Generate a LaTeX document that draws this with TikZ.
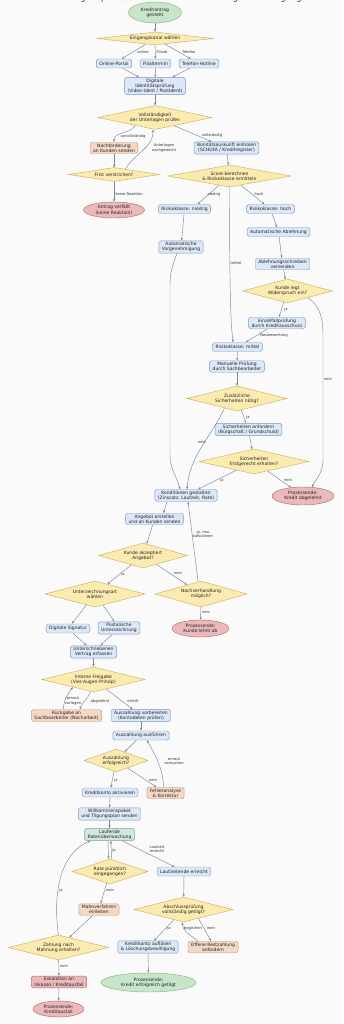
\documentclass[tikz,border=0pt]{standalone}
\usepackage{fontspec}
\setmainfont{DejaVu Sans}
\usetikzlibrary{shapes.geometric,arrows.meta,calc}
\definecolor{bgc}{HTML}{FAFAFA}
\definecolor{procf}{HTML}{DCE7F7}
\definecolor{procb}{HTML}{8098C4}
\definecolor{decf}{HTML}{FCEBB0}
\definecolor{decb}{HTML}{CDB15E}
\definecolor{orgf}{HTML}{F5D8C4}
\definecolor{orgb}{HTML}{C49F86}
\definecolor{redf}{HTML}{EBB9B9}
\definecolor{redb}{HTML}{B86A6A}
\definecolor{grnf}{HTML}{C8E5C9}
\definecolor{grnb}{HTML}{86B487}
\definecolor{tealf}{HTML}{D0E7E0}
\definecolor{tealb}{HTML}{7AA597}
\definecolor{edgec}{HTML}{7886A2}
\definecolor{txtc}{HTML}{222222}
\definecolor{labc}{HTML}{333333}
\tikzset{
  basen/.style={font=\fontsize{4.5}{5.2}\selectfont, align=center, line width=0.45pt, text=txtc},
  pbox/.style={basen, rectangle, rounded corners=1.8pt, draw=procb, fill=procf, inner xsep=3pt, inner ysep=1.4pt, minimum height=9pt},
  obox/.style={pbox, draw=orgb, fill=orgf},
  rbox/.style={pbox, draw=redb, fill=redf},
  tbox/.style={pbox, draw=tealb, fill=tealf},
  decn/.style={basen, diamond, draw=decb, fill=decf, inner sep=0pt},
  dmd/.style 2 args={decn, minimum width=#1pt, minimum height=#2pt, /utils/exec={\pgfmathsetmacro\myasp{#1/#2}}, aspect=\myasp},
  terml/.style={basen, ellipse, inner sep=0pt},
  gell/.style={terml, draw=grnb, fill=grnf},
  rell/.style={terml, draw=redb, fill=redf},
  arr/.style={draw=edgec, line width=0.45pt, -{Stealth[length=2.8pt,width=2.2pt]}},
  lab/.style={font=\fontsize{3.7}{4.3}\selectfont, text=labc, inner sep=0.3pt, align=center},
}
\begin{document}
\begin{tikzpicture}[x=1pt,y=1pt]
\useasboundingbox[fill=bgc] (0,0) rectangle (343,-1024);
\node[font=\fontsize{8.3}{10}\selectfont, text=txtc, anchor=base, inner sep=0pt] (title) at (172,-0.8) {Kreditvergabeprozess einer Bank – vom Antrag bis zur Tilgung};

% nodes
\node[gell, minimum width=53pt, minimum height=21pt] (start) at (155,-12.5) {Kreditantrag\\gestellt};
\node[dmd={116}{13}] (d1) at (155,-38.5) {Eingangskanal wählen};
\node[pbox] (online) at (114,-63.5) {Online-Portal};
\node[pbox] (filial) at (155.5,-63.5) {Filialtermin};
\node[pbox] (telefon) at (199,-63.5) {Telefon-Hotline};
\node[pbox] (ident) at (155,-86) {Digitale\\Identitätsprüfung\\(Video-Ident / PostIdent)};
\node[dmd={114}{24}] (vollst) at (155,-117.5) {Vollständigkeit\\der Unterlagen prüfen};
\node[obox] (nachf) at (114,-148) {Nachforderung\\an Kunden senden};
\node[pbox] (bonit) at (226.5,-148) {Bonitätsauskunft einholen\\(SCHUFA / Kreditregister)};
\node[dmd={91}{14}] (frist) at (114,-174.5) {Frist verstrichen?};
\node[rell, minimum width=61pt, minimum height=16pt] (verf) at (114,-210) {Antrag verfällt\\(keine Reaktion)};
\node[dmd={123}{22}] (score) at (229.5,-176) {Score berechnen\\\& Risikoklasse ermitteln};
\node[pbox] (niedrig) at (184.5,-209) {Risikoklasse: niedrig};
\node[pbox] (hoch) at (270.5,-209) {Risikoklasse: hoch};
\node[pbox] (abl) at (278.5,-232) {Automatische Ablehnung};
\node[pbox] (vorgen) at (181,-247) {Automatische\\Vorgenehmigung};
\node[pbox] (schreib) at (282.5,-264) {Ablehnungsschreiben\\versenden};
\node[dmd={90}{24}] (widersp) at (287.5,-291) {Kunde legt\\Widerspruch ein?};
\node[pbox] (einzel) at (277,-323) {Einzelfallprüfung\\durch Kreditausschuss};
\node[pbox] (mittel) at (237.5,-347) {Risikoklasse: mittel};
\node[pbox] (manuell) at (237,-366.5) {Manuelle Prüfung\\durch Sachbearbeiter};
\node[dmd={100}{25}] (zus) at (237,-398.5) {Zusätzliche\\Sicherheiten nötig?};
\node[pbox] (sich) at (248.5,-429.5) {Sicherheiten anfordern\\(Bürgschaft / Grundschuld)};
\node[dmd={110}{25}] (frist2) at (254,-461.5) {Sicherheiten\\fristgerecht erhalten?};
\node[rell, minimum width=62pt, minimum height=18pt] (abgel) at (303,-496) {Prozessende:\\Kredit abgelehnt};
\node[pbox] (kondit) at (186,-495.5) {Konditionen gestalten\\(Zinssatz, Laufzeit, Rate)};
\node[pbox] (angebot) at (154.5,-519) {Angebot erstellen\\und an Kunden senden};
\node[dmd={89}{25}] (akzept) at (143,-555.5) {Kunde akzeptiert\\Angebot?};
\node[dmd={100}{26}] (unterz) at (95,-594) {Unterzeichnungsart\\wählen};
\node[dmd={92}{26}] (nachv) at (201,-594) {Nachverhandlung\\möglich?};
\node[rell, minimum width=57pt, minimum height=17pt] (kundeab) at (200.5,-628.5) {Prozessende:\\Kunde lehnt ab};
\node[pbox] (digsig) at (68,-628.5) {Digitale Signatur};
\node[pbox] (postal) at (119,-628) {Postalische\\Unterzeichnung};
\node[pbox] (vertrag) at (93.5,-652) {Unterschriebenen\\Vertrag erfassen};
\node[dmd={103}{25}] (freig) at (93.5,-679.5) {Interne Freigabe\\(Vier-Augen-Prinzip)};
\node[obox] (rueck) at (66.5,-715.5) {Rückgabe an\\Sachbearbeiter (Nacharbeit)};
\node[pbox] (vorb) at (141,-715.5) {Auszahlung vorbereiten\\(Kontodaten prüfen)};
\node[pbox] (ausf) at (141,-735.5) {Auszahlung ausführen};
\node[dmd={64}{23}] (erfolg) at (116,-760.5) {Auszahlung\\erfolgreich?};
\node[pbox] (aktiv) at (110,-792.5) {Kreditkonto aktivieren};
\node[obox] (fehler) at (165.5,-793) {Fehleranalyse\\\& Korrektur};
\node[pbox] (willk) at (109.5,-814) {Willkommenspaket\\und Tilgungsplan senden};
\node[tbox] (lauf) at (109.5,-834.5) {Laufende\\Ratenüberwachung};
\node[dmd={76}{25}] (rate) at (110,-871.5) {Rate pünktlich\\eingegangen?};
\node[pbox] (laufend) at (184,-871.5) {Laufzeitende erreicht};
\node[obox] (mahn) at (99,-909.5) {Mahnverfahren\\einleiten};
\node[dmd={99}{25}] (absch) at (183.5,-909.5) {Abschlussprüfung\\vollständig getilgt?};
\node[dmd={100}{25}] (zahl) at (58.5,-947.5) {Zahlung nach\\Mahnung erhalten?};
\node[pbox] (aufl) at (148,-947) {Kreditkonto auflösen\\\& Löschungsbewilligung};
\node[obox] (offen) at (213,-947) {Offene Restzahlung\\anfordern};
\node[gell, minimum width=95pt, minimum height=19pt] (erfolgt) at (148.5,-982.5) {Prozessende:\\Kredit erfolgreich getilgt};
\node[rbox] (eskal) at (59,-982) {Eskalation an\\Inkasso / Kreditausfall};
\node[rell, minimum width=51pt, minimum height=16pt] (ausfall) at (58.5,-1009) {Prozessende:\\Kreditausfall};

% edges
\draw[arr] (start) -- (d1);
\draw[arr] (d1) -- (online) node[lab] at (143,-52) {online};
\draw[arr] (d1) -- (filial) node[lab] at (162,-52) {Filiale};
\draw[arr] (d1) -- (telefon) node[lab] at (189,-52) {Telefon};
\draw[arr] (online) -- (ident);
\draw[arr] (filial) -- (ident);
\draw[arr] (telefon) -- (ident);
\draw[arr] (ident) -- (vollst);
\draw[arr] ($(vollst.west)!0.65!(vollst.south)$) to[out=-120,in=90] (nachf.north) node[lab] at (133,-136) {unvollständig};
\draw[arr] (vollst) -- (bonit) node[lab] at (212,-135) {vollständig};
\draw[arr] (nachf) -- (frist);
\draw[arr] ($(frist.north)!0.25!(frist.east)$) to[out=60,in=-90] ($(vollst.south)+(-2,0)$) node[lab] at (164,-148) {Unterlagen\\nachgereicht};
\draw[arr] (frist) -- (verf) node[lab, anchor=west] at (115,-194) {keine Reaktion};
\draw[arr] (bonit) -- (score);
\draw[arr] (score) -- ($(niedrig.north)+(13,0)$) node[lab] at (214,-194) {niedrig};
\draw[arr] (score) -- ($(hoch.north)+(-6,0)$) node[lab] at (259,-194) {hoch};
\draw[arr] (score.south) .. controls +(0,-140) and +(-1,12) .. ($(mittel.north)+(-4.5,0)$) node[lab] at (236,-263) {mittel};
\draw[arr] (niedrig) -- (vorgen);
\draw[arr] ($(vorgen.south)+(-4,0)$) to[out=-110,in=90] (170,-285) -- (170,-455) to[out=-90,in=105] ($(kondit.north)+(-6,0)$);
\draw[arr] (hoch) -- (abl);
\draw[arr] (abl) -- (schreib);
\draw[arr] (schreib) -- (widersp);
\draw[arr] (widersp) -- (einzel) node[lab] at (286,-309) {ja};
\draw[arr] ($(widersp.east)!0.55!(widersp.south)$) to[out=-35,in=90] (323,-335) -- (323,-460) to[out=-90,in=60] (abgel.45) node[lab] at (328,-379) {nein};
\draw[arr] (einzel) -- ($(mittel.north)+(8,0)$) node[lab] at (274,-335) {Neubewertung};
\draw[arr] (mittel) -- (manuell);
\draw[arr] (manuell) -- (zus);
\draw[arr] (zus) -- (sich) node[lab] at (248,-417) {ja};
\draw[arr] ($(zus.west)!0.75!(zus.south)$) to[out=-115,in=85] ($(kondit.north)+(1,0)$) node[lab] at (202,-442) {nein};
\draw[arr] (sich) -- (frist2);
\draw[arr] (frist2) -- ($(kondit.north)+(12,0)$) node[lab] at (222,-480) {ja};
\draw[arr] (frist2) -- (abgel) node[lab] at (288,-480) {nein};
\draw[arr] ($(kondit.south)+(-19,0)$) -- ($(angebot.north)+(9,0)$);
\draw[arr] (angebot) -- (akzept);
\draw[arr] (akzept) -- (unterz) node[lab] at (123,-574) {ja};
\draw[arr] (akzept) -- (nachv) node[lab] at (178,-573) {nein};
\draw[arr] ($(nachv.north)+(-3,0)$) -- ($(kondit.south)+(2,0)$) node[lab] at (203,-534) {ja, neu\\kalkulieren};
\draw[arr] (nachv) -- (kundeab) node[lab] at (206,-612) {nein};
\draw[arr] (unterz) -- (digsig);
\draw[arr] (unterz) -- (postal);
\draw[arr] (digsig) -- (vertrag);
\draw[arr] (postal) -- (vertrag);
\draw[arr] (vertrag) -- (freig);
\draw[arr] ($(freig.south)!0.06!(freig.west)$) to[out=-105,in=75] ($(rueck.north)+(13.5,0)$) node[lab] at (100,-701) {abgelehnt};
\draw[arr] ($(rueck.north)+(-3,0)$) to[out=90,in=-125] ($(freig.west)!0.6!(freig.south)$) node[lab] at (73,-701) {erneut\\vorlegen};
\draw[arr] (freig) -- (vorb) node[lab] at (133,-701) {erteilt};
\draw[arr] (vorb) -- (ausf);
\draw[arr] (ausf) -- (erfolg);
\draw[arr] (erfolg) -- (aktiv) node[lab] at (116,-780) {ja};
\draw[arr] (erfolg) -- (fehler) node[lab] at (153,-780) {nein};
\draw[arr] ($(fehler.north)+(-2,0)$) to[out=92,in=-62] ($(ausf.south)+(6,0)$) node[lab] at (174,-761) {erneut\\versuchen};
\draw[arr] (aktiv) -- (willk);
\draw[arr] (willk) -- (lauf);
\draw[arr] ($(lauf.south)+(-1.5,0)$) -- ($(rate.north)+(-1.5,0)$);
\draw[arr] ($(rate.north)+(1.5,0)$) -- ($(lauf.south)+(1.5,0)$) node[lab] at (114,-850) {ja};
\draw[arr] (lauf) -- (laufend) node[lab] at (157,-849) {Laufzeit\\erreicht};
\draw[arr] (rate) -- (mahn) node[lab] at (110,-890) {nein};
\draw[arr] (mahn) -- (zahl);
\draw[arr] (zahl.north) .. controls (52,-890) and (62,-852) .. ($(lauf.south west)+(6,0)$) node[lab] at (61,-890) {ja};
\draw[arr] (zahl) -- (eskal) node[lab] at (64,-966) {nein};
\draw[arr] (eskal) -- (ausfall);
\draw[arr] (laufend) -- (absch);
\draw[arr] (absch) -- (aufl) node[lab] at (169,-928) {ja};
\draw[arr] ($(absch.south)!0.3!(absch.east)$) -- ($(offen.north)+(-2,0)$) node[lab] at (211,-928) {nein};
\draw[arr] ($(offen.north)+(-15,0)$) to[out=140,in=-90] ($(absch.south)+(-1,0)$) node[lab] at (193,-928) {beglichen};
\draw[arr] (aufl) -- (erfolgt);
\end{tikzpicture}
\end{document}
